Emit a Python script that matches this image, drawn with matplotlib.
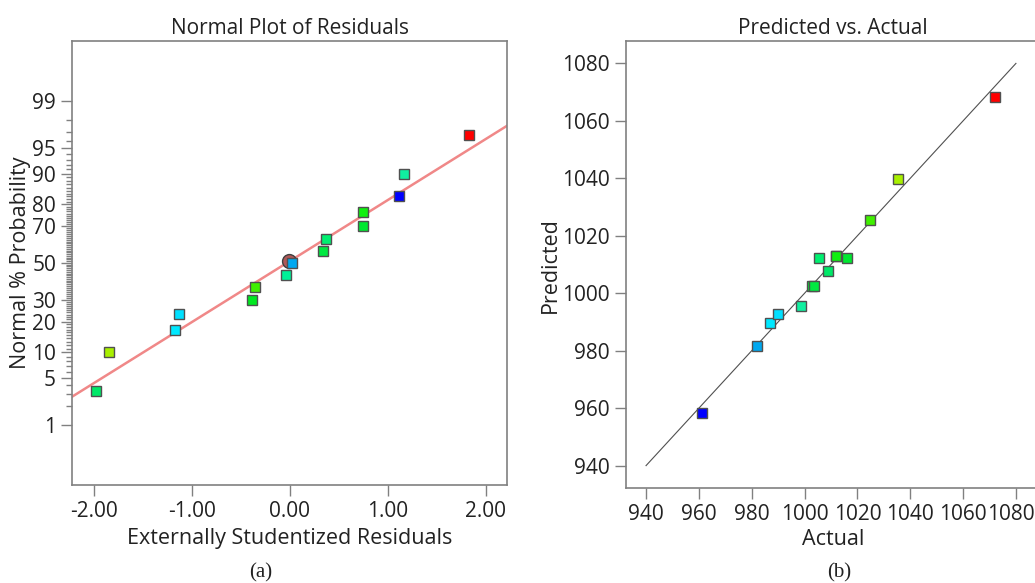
import numpy as np
import matplotlib
matplotlib.use('Agg')
import matplotlib.pyplot as plt
import matplotlib.transforms as mtransforms
from statistics import NormalDist

plt.rcParams['font.family'] = ['Open Sans', 'DejaVu Sans']

# normal plot of residuals
resid = [-1.977, -1.845, -1.170, -1.129, -0.382, -0.352, -0.035, 0.027,
         0.344, 0.374, 0.746, 0.746, 1.118, 1.162, 1.833]
prob = [3.3, 10.0, 16.7, 23.3, 30.0, 36.7, 43.3, 50.0,
        56.7, 63.3, 70.0, 76.7, 83.3, 90.0, 96.7]
colors = ['#00e868', '#a8f000', '#00e8ff', '#00e0ff', '#00e820', '#40f000',
          '#00f098', '#00a8f0', '#00e840', '#00f070', '#00e830', '#10f010',
          '#0000ff', '#10f0a0', '#ff0000']
fit_x = [-2.25, 2.25]
fit_p = [2.64, 97.68]
center_x, center_p = -0.005, 51.0

prob_ticks = [1, 5, 10, 20, 30, 50, 70, 80, 90, 95, 99]
resid_ticks = [-2, -1, 0, 1, 2]

# predicted vs actual
actual = [961.3, 981.9, 986.8, 989.8, 998.6, 1002.7, 1003.7, 1005.6,
          1008.7, 1012.0, 1012.0, 1015.9, 1024.8, 1035.5, 1072.2]
predicted = [958.2, 981.6, 989.5, 992.8, 995.4, 1002.5, 1002.5, 1012.3,
             1007.7, 1013.0, 1013.0, 1012.3, 1025.6, 1039.6, 1068.3]
colors_b = ['#0000ff', '#00a8f0', '#00e8ff', '#00e0ff', '#10f0a0', '#00e830',
            '#00e840', '#00f070', '#00e868', '#00e820', '#10f010', '#00e830',
            '#40f000', '#a8f000', '#ff0000']
diag = [940, 1080]
ab_ticks = [940, 960, 980, 1000, 1020, 1040, 1060, 1080]

nd = NormalDist()
def probit(p):
    return np.array([nd.inv_cdf(v / 100.0) for v in np.atleast_1d(p)])

spine_c = '#808080'
txt_c = '#222222'
fs = 15

fig = plt.figure(figsize=(10.35, 5.83), dpi=100)

# ---- (a) ----
ax1 = fig.add_axes([0.0696, 0.1681, 0.4203, 0.7616])
ax1.plot(fit_x, probit(fit_p), color='#f08888', lw=1.8, zorder=2)
ax1.plot([center_x], probit([center_p]), 'o', ms=10, mfc='#b05858',
         mec='#404040', mew=1, zorder=3)
for x, p, c in zip(resid, prob, colors):
    ax1.plot([x], probit([p]), 's', ms=7, mfc=c, mec='#505050', mew=1, zorder=4)
ax1.set_xlim(-2.226, 2.22)
ax1.set_ylim(-3.18, 3.18)
ax1.set_xticks(resid_ticks)
ax1.set_xticklabels(['%.2f' % t for t in resid_ticks])
ax1.set_yticks(probit(prob_ticks))
ax1.set_yticklabels([str(t) for t in prob_ticks])
ax1.set_yticks(probit(np.arange(1, 100)), minor=True)
ax1.tick_params(axis='both', which='major', length=8, width=1, color=spine_c,
                labelsize=fs, labelcolor=txt_c)
ax1.tick_params(axis='y', which='minor', length=4, width=1, color=spine_c)
for s in ax1.spines.values():
    s.set_color(spine_c)
    s.set_linewidth(1.2)
ax1.set_title('Normal Plot of Residuals', fontsize=15, color=txt_c, pad=5)
ax1.set_xlabel('Externally Studentized Residuals', fontsize=15.5, color=txt_c,
               labelpad=4)
ax1.set_ylabel('Normal % Probability', fontsize=15.5, color=txt_c, labelpad=1)

# ---- (b) ----
ax2 = fig.add_axes([0.6048, 0.1624, 0.4, 0.7673])
ax2.plot(diag, diag, color='#505050', lw=0.8, zorder=2)
for x, y, c in zip(actual, predicted, colors_b):
    ax2.plot([x], [y], 's', ms=7, mfc=c, mec='#505050', mew=1, zorder=4)
ax2.set_xlim(932.4, 1089.1)
ax2.set_ylim(932.1, 1087.8)
ax2.set_xticks(ab_ticks)
ax2.set_yticks(ab_ticks)
ax2.tick_params(axis='both', which='major', length=8, width=1, color=spine_c,
                labelsize=fs, labelcolor=txt_c)
for s in ax2.spines.values():
    s.set_color(spine_c)
    s.set_linewidth(1.2)
ax2.set_title('Predicted vs. Actual', fontsize=15, color=txt_c, pad=5)
ax2.set_xlabel('Actual', fontsize=15.5, color=txt_c, labelpad=3)
ax2.set_ylabel('Predicted', fontsize=15.5, color=txt_c, labelpad=1)

# keep the last x label inside the figure
last = ax2.get_xticklabels()[-1]
last.set_transform(last.get_transform() +
                   mtransforms.ScaledTranslation(-5 / 100, 0, fig.dpi_scale_trans))

fig.text(260.7 / 1035, 1 - 573 / 583, '(a)', ha='center', va='center',
         family='Liberation Serif', fontsize=15, color=txt_c)
fig.text(839 / 1035, 1 - 573 / 583, '(b)', ha='center', va='center',
         family='Liberation Serif', fontsize=15, color=txt_c)

fig.savefig('out.png', dpi=100)
